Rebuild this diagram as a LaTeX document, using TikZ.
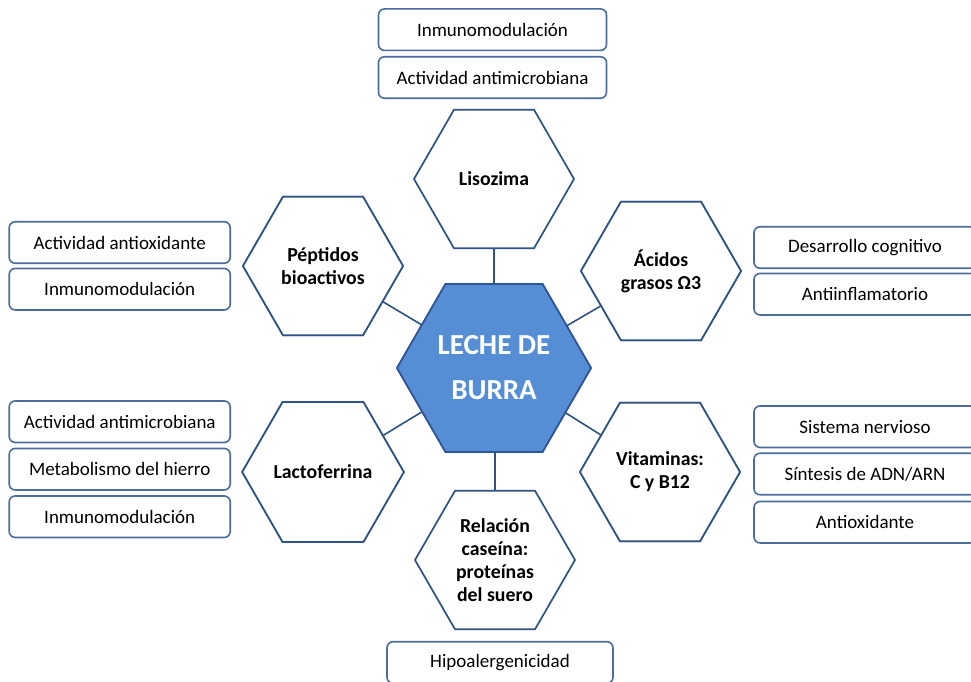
\documentclass[tikz,border=0pt]{standalone}
\usepackage{fontspec}
\setmainfont{Carlito}
\usetikzlibrary{shapes.geometric}
\definecolor{hexline}{HTML}{2F5286}
\definecolor{boxline}{HTML}{4A6D9C}
\definecolor{centerfill}{HTML}{558ED5}
\definecolor{centerline}{HTML}{2F5597}
\begin{document}
\begin{tikzpicture}[x=1pt,y=-1pt,
  hexa/.style={regular polygon, regular polygon sides=6, minimum size=160pt,
    inner sep=0pt, outer sep=0pt, draw=hexline, line width=1.7pt, fill=white,
    align=center, font=\fontsize{19.8}{23}\selectfont\bfseries},
  centerhex/.style={regular polygon, regular polygon sides=6, minimum size=194pt,
    inner sep=0pt, outer sep=0pt, draw=centerline, line width=1.7pt, fill=centerfill,
    text=white, align=center, font=\fontsize{29}{45}\selectfont\bfseries},
  infobox/.style={draw=boxline, line width=1.6pt, rounded corners=6pt, fill=white,
    minimum width=221pt, minimum height=41.5pt, inner sep=0pt,
    font=\fontsize{19}{22}\selectfont},
  conn/.style={draw=hexline, line width=1.6pt}]
\useasboundingbox[fill=white] (0,0) rectangle (971,682);

% central hexagon
\node[centerhex] (cen) at (494,368) {LECHE DE\\BURRA};

% outer hexagons
\node[hexa] (lis) at (494,179) {Lisozima};
\node[hexa] (pep) at (323,266) {Péptidos\\bioactivos};
\node[hexa] (aci) at (661,271) {Ácidos\\grasos Ω3};
\node[hexa] (lac) at (323,472) {Lactoferrina};
\node[hexa] (vit) at (660,472) {Vitaminas:\\C y B12};
\node[hexa] (rel) at (495,560) {Relación\\caseína:\\proteínas\\del suero};

% connectors
\draw[conn] (lis.south) -- (lis.south |- cen.north);
\draw[conn] (rel.north) -- (rel.north |- cen.south);
\draw[conn] (pep) -- (cen);
\draw[conn] (aci) -- (cen);
\draw[conn] (lac) -- (cen);
\draw[conn] (vit) -- (cen);
% redraw hexagons over the connector ends
\node[centerhex] at (494,368) {LECHE DE\\BURRA};
\node[hexa] at (323,266) {Péptidos\\bioactivos};
\node[hexa] at (661,271) {Ácidos\\grasos Ω3};
\node[hexa] at (323,472) {Lactoferrina};
\node[hexa] at (660,472) {Vitaminas:\\C y B12};

% top boxes
\node[infobox, minimum width=228pt] (t1) at (492.5,29.7) {Inmunomodulación};
\node[infobox, minimum width=228pt] (t2) at (492.5,77.5) {Actividad antimicrobiana};

% left upper boxes
\node[infobox] (l1) at (119.7,242.5) {Actividad antioxidante};
\node[infobox] (l2) at (119.7,289.2) {Inmunomodulación};

% left lower boxes
\node[infobox] (l3) at (119.7,421.7) {Actividad antimicrobiana};
\node[infobox] (l4) at (119.7,469.2) {Metabolismo del hierro};
\node[infobox] (l5) at (119.7,516.7) {Inmunomodulación};

% right upper boxes
\node[infobox, minimum width=222pt] (r1) at (865,247.5) {Desarrollo cognitivo};
\node[infobox, minimum width=222pt] (r2) at (865,294.2) {Antiinflamatorio};

% right lower boxes
\node[infobox, minimum width=222pt] (r3) at (865,426.7) {Sistema nervioso};
\node[infobox, minimum width=222pt] (r4) at (865,474.0) {Síntesis de ADN/ARN};
\node[infobox, minimum width=222pt] (r5) at (865,522.2) {Antioxidante};

% bottom box
\node[infobox, minimum width=226pt] (b1) at (500,662.5) {Hipoalergenicidad};
\end{tikzpicture}
\end{document}
